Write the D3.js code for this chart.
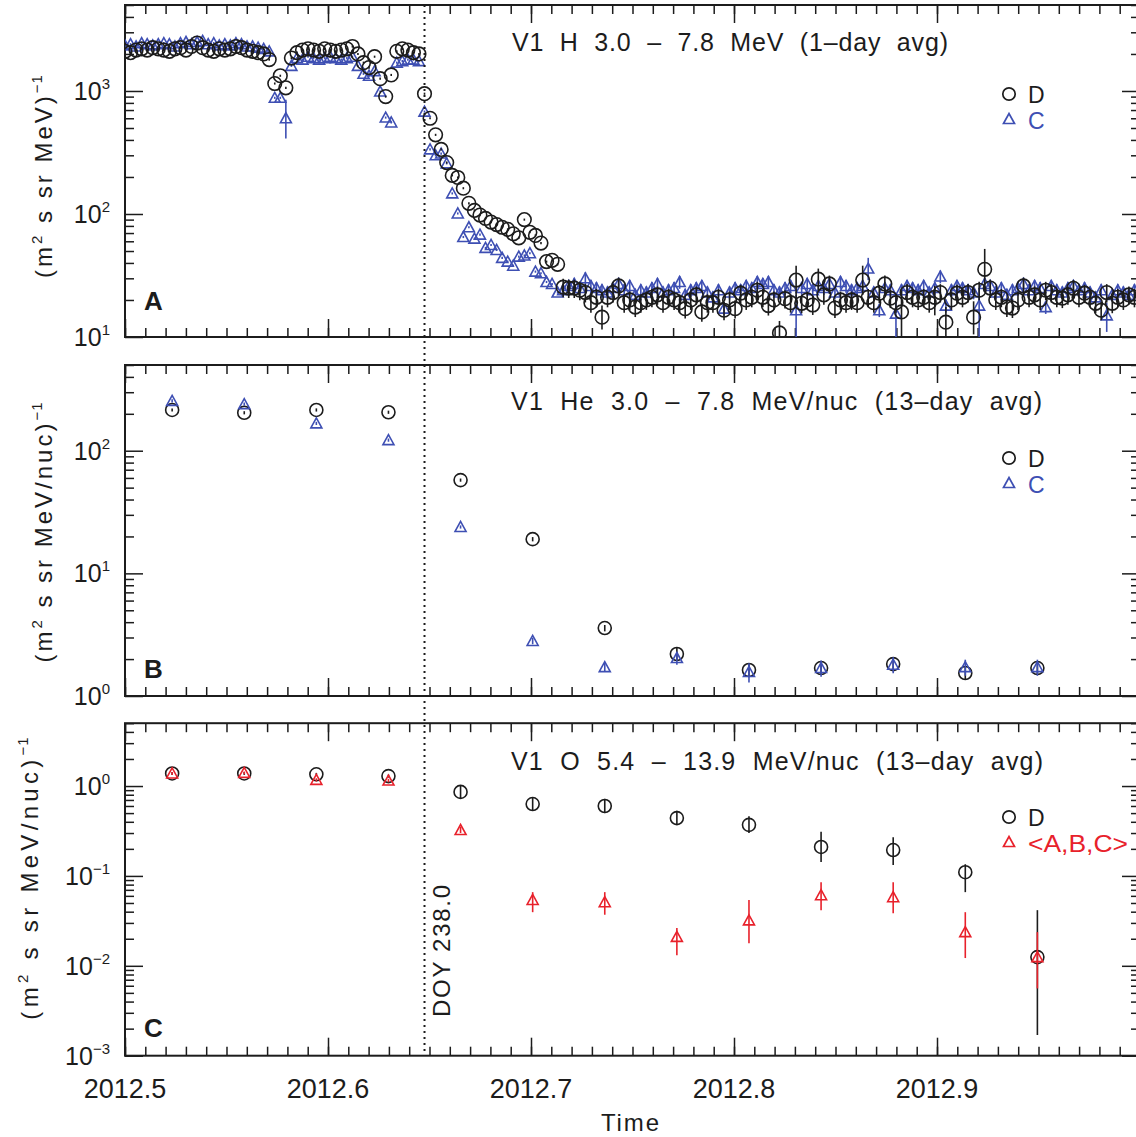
<!DOCTYPE html>
<html><head><meta charset="utf-8">
<script src="https://cdn.jsdelivr.net/npm/d3@7"></script>
<style>body{margin:0;background:#fff}svg{display:block}</style>
</head><body>
<svg id="chart" width="1136" height="1137"></svg>
<script>
// ================= DATA =================
// Panel A: V1 H 3.0-7.8 MeV, 1-day averages, consecutive days starting at DOY 184 (2012)
const hStartDoy = 184;
const hD = [
 2100,2050,2150,2200,2150,2250,2200,2150,2100,2200,2250,2150,2300,2450,2250,2150,2100,2200,2150,2200,2300,2250,2150,2100,2050,2000,1800,
 1150,1330,1060,1850,
 2050,2150,2200,2150,2100,2200,2150,2100,2150,2200,2300,
 2000,1700,1550,1900,1260,900,1350,
 2100,2200,2150,2050,2000,
 950,600,440,335,262,206,198,162,122,107,98,92,86,82,78,75,69,64,90,71,67,58,41,42,39,25.4,
 25,25,24,23,19,21,14.5,21,23,26,
 19,20,17.5,19,20,21,22,19,21,20,
 19,17,20,22,16,19,19,21,16.5,20,
 17,22.7,20,21,24,21,18,20,10.8,20.5,
 19,29,18.8,20,18.2,29.5,22,27,17.2,20,
 19,20,19,29,21,19,22.7,27,20.7,19,
 16,23,21,20,21,19,21,23,13.2,20,
 22.7,21,23,14.5,24,35.5,25,20,21,17.5,
 17.2,20,26,21,22,20,24,23,21,20.7,
 22,24.9,21,22.7,21,18.8,16.5,23,18.8,21,
 20,22,21
];
const hC = [
 2350,2400,2300,2450,2400,2350,2400,2450,2400,2300,2450,2500,2400,2500,2550,2400,2450,2350,2400,2350,2450,2400,2300,2300,2250,2200,2100,
 880,880,600,1600,
 1850,1800,1900,1850,1800,1850,1900,1850,1800,1850,1900,
 1600,1380,1330,1450,990,608,555,
 1700,1750,1800,1800,1750,
 680,335,300,310,258,147,101,65,78,63,68,53,56,51,44,41,38,45,46,48,34,33,28,27,23,24,
 26,27,25,30,26,25,24,23,25,27,
 24,26,22,24,23,25,27,23,24,25,
 28,22,24,25,26,23,21,24,17,23,
 25,24,26,25,28,27,28,24,23,25,
 26,16.5,25,27,24,26,25,27,23,28,
 26,24,25,26,36,23,16.5,25,24,15.5,
 24,26,25,24,26,23,25,31,18,24,
 26,25,24,23,18,27,26,23,25,22,
 24,25,27,24,26,25,17.5,26,24,23,
 25,26,24,25,23,21,24,15,22,24,
 23,22,24
];
// relative errors (fraction) before / after the quiet-tail start, plus individual long bars [dayIndex, low, high]
const hTailStartIndex = 79;
const hErrEarly = 0.02;
const hErrTailD = 0.17;
const hErrTailC = 0.12;
const hDErrBars = [[86,11.5,18],[118,8,13.5],[121,19,38],[125,24,36],[133,22,38],[140,9,24],[146,15,26],[148,9,17.5],[153,10.5,19.5],[155,24,52]];
const hCErrBars = [[29,410,850],[121,9,22],[134,29,44],[139,9,21],[154,9,25],[177,11,19]];

// Panels B and C: 13-day averages, bin centres (DOY 2012)
const binDoy = [192.5,205.5,218.5,231.5,244.5,257.5,270.5,283.5,296.5,309.5,322.5,335.5,348.5];
const heD    = [215,204,215,206,57.6,19,3.58,2.2,1.63,1.69,1.82,1.54,1.69];
const heDErr = [0.03,0.03,0.03,0.03,0.03,0.04,0.06,0.12,0.12,0.12,0.12,0.12,0.12];
const heC    = [255,240,167,122,23.9,2.81,1.72,2.04,1.57,1.69,1.8,1.72,1.72];
const heCErr = [0.03,0.03,0.03,0.03,0.03,0.06,0.08,0.12,0.18,0.15,0.15,0.15,0.15];

const oD   = [1.38,1.38,1.35,1.29,0.86,0.63,0.60,0.44,0.37,0.21,0.194,0.11,0.0125];
const oDLo = [1.33,1.33,1.30,1.24,0.72,0.53,0.50,0.37,0.30,0.143,0.132,0.066,0.0017];
const oDHi = [1.43,1.43,1.40,1.34,1.02,0.75,0.72,0.53,0.46,0.31,0.27,0.135,0.0416];
const oA   = [1.38,1.40,1.17,1.15,0.324,0.054,0.051,0.021,0.032,0.061,0.058,0.0237,0.0125];
const oALo = [1.33,1.35,1.12,1.10,0.30,0.0395,0.037,0.0131,0.0178,0.0416,0.0385,0.0122,0.0056];
const oAHi = [1.43,1.45,1.22,1.20,0.35,0.066,0.066,0.0263,0.054,0.085,0.085,0.0395,0.0237];

const eventDoy = 238.0;
const xMajorTicks = [2012.5,2012.6,2012.7,2012.8,2012.9,2013.0];
const xTickLabels = ["2012.5","2012.6","2012.7","2012.8","2012.9",""];
const titles = ["V1  H  3.0  –  7.8  MeV  (1–day  avg)",
                "V1  He  3.0  –  7.8  MeV/nuc  (13–day  avg)",
                "V1  O  5.4  –  13.9  MeV/nuc  (13–day  avg)"];
const panelLetters = ["A","B","C"];
const legendNames = [["D","C"],["D","C"],["D","<A,B,C>"]];

// ================= LAYOUT / STYLE =================
const BLK="#1c1c1c", BLUE="#3e4fb3", RED="#e8212b";
const X0=125, X1=1140;
const panels=[
  {top:5,   bottom:337,    dom:[10,5000],  ylabelX:52, ylabelY:176, ylabelLS:3, unit:"MeV", titleX:[512,948], titleY:51,  letterY:310, legY:94},
  {top:365, bottom:696,    dom:[1,500],    ylabelX:52, ylabelY:532, ylabelLS:3, unit:"MeV/nuc", titleX:[511,1042], titleY:410, letterY:678, legY:458},
  {top:723.2, bottom:1055.7, dom:[0.001,5], ylabelX:38, ylabelY:878, ylabelLS:4.3, unit:"MeV/nuc", titleX:[511,1043], titleY:770, letterY:1037, legY:817}
];
const svg=d3.select("#chart");
const x=d3.scaleLinear().domain([2012.5,2013.0]).range([X0,X1]);
const doyToT=d=>2012+(d-1)/366;
const xMinor=d3.range(0,51).map(k=>+(2012.5+k*0.01).toFixed(3));
const TRI="M-5.5,4.5L0,-5.5L5.5,4.5Z";
const fontH="'Liberation Sans', Arial, Helvetica, sans-serif";

function logTicks([lo,hi]){
  const major=[],minor=[];
  for(let e=Math.floor(Math.log10(lo)); e<=Math.ceil(Math.log10(hi)); e++){
    const v=Math.pow(10,e);
    if(v>=lo*0.999&&v<=hi*1.001) major.push(v);
    for(let k=2;k<=9;k++){const m=k*v; if(m>lo*1.001&&m<hi*1.001) minor.push(m);}
  }
  return {major,minor};
}
function styleAxis(g){
  g.select(".domain").remove();
  g.selectAll(".tick line").attr("stroke",BLK).attr("stroke-width",1.5);
}

panels.forEach((p,pi)=>{
  const y=d3.scaleLog().domain(p.dom).range([p.bottom,p.top]);
  p.y=y;
  const g=svg.append("g");
  const clipId="clip"+pi;
  svg.append("defs").append("clipPath").attr("id",clipId).append("rect")
     .attr("x",X0).attr("y",p.top).attr("width",X1-X0).attr("height",p.bottom-p.top);

  [[d3.axisBottom,p.bottom],[d3.axisTop,p.top]].forEach(([ax,yy])=>{
    g.append("g").attr("transform",`translate(0,${yy})`)
      .call(ax(x).tickValues(xMinor).tickSize(-9).tickFormat("")).call(styleAxis);
    g.append("g").attr("transform",`translate(0,${yy})`)
      .call(ax(x).tickValues(xMajorTicks).tickSize(-18).tickFormat("")).call(styleAxis);
  });
  const lt=logTicks(p.dom);
  [[d3.axisLeft,X0],[d3.axisRight,X1]].forEach(([ax,xx])=>{
    g.append("g").attr("transform",`translate(${xx},0)`)
      .call(ax(y).tickValues(lt.minor).tickSize(-9).tickFormat("")).call(styleAxis);
    g.append("g").attr("transform",`translate(${xx},0)`)
      .call(ax(y).tickValues(lt.major).tickSize(-18).tickFormat("")).call(styleAxis);
  });
  lt.major.forEach(v=>{
    const e=Math.round(Math.log10(v));
    const t=g.append("text").attr("x",110).attr("y",y(v)+9).attr("text-anchor","end")
      .attr("font-family",fontH).attr("fill",BLK);
    t.append("tspan").attr("font-size",25).text("10");
    t.append("tspan").attr("font-size",15).attr("dy",-11).text(String(e).replace("-","−"));
  });
  g.append("rect").attr("x",X0).attr("y",p.top).attr("width",X1-X0).attr("height",p.bottom-p.top)
    .attr("fill","none").attr("stroke",BLK).attr("stroke-width",2);

  const yt=g.append("text").attr("transform",`translate(${p.ylabelX},${p.ylabelY}) rotate(-90)`)
    .attr("text-anchor","middle").attr("font-family",fontH).attr("font-size",24)
    .attr("letter-spacing",p.ylabelLS).attr("fill",BLK);
  yt.append("tspan").text("(m");
  yt.append("tspan").attr("font-size",15).attr("dy",-10).text("2");
  yt.append("tspan").attr("dy",10).text(" s sr "+p.unit+")");
  yt.append("tspan").attr("font-size",15).attr("dy",-10).attr("letter-spacing",1).text("−1");

  g.append("text").attr("x",p.titleX[0]).attr("y",p.titleY).attr("font-family",fontH)
    .attr("font-size",25).attr("fill",BLK).attr("textLength",p.titleX[1]-p.titleX[0])
    .attr("lengthAdjust","spacing").style("white-space","pre").text(titles[pi]);
  g.append("text").attr("x",144).attr("y",p.letterY).attr("font-family",fontH)
    .attr("font-size",26).attr("font-weight","bold").attr("fill",BLK).text(panelLetters[pi]);

  const col2 = pi===2?RED:BLUE;
  g.append("circle").attr("cx",1009).attr("cy",p.legY).attr("r",6.2)
    .attr("fill","none").attr("stroke",BLK).attr("stroke-width",1.7);
  g.append("text").attr("x",1028).attr("y",p.legY+9).attr("font-family",fontH).attr("font-size",23)
    .attr("fill",BLK).text(legendNames[pi][0]);
  g.append("path").attr("d",TRI).attr("transform",`translate(1009,${p.legY+25})`)
    .attr("fill","none").attr("stroke",col2).attr("stroke-width",1.7);
  const lt2=g.append("text").attr("x",1028).attr("y",p.legY+35).attr("font-family",fontH).attr("font-size",23)
    .attr("fill",col2).text(legendNames[pi][1]);
  if(pi===2) lt2.attr("textLength",100).attr("lengthAdjust","spacingAndGlyphs");

  p.plot=svg.append("g").attr("clip-path",`url(#${clipId})`);
});

function drawSeries(plot,y,pts,shape,color,r){
  const gg=plot.append("g");
  gg.selectAll("line").data(pts).join("line")
    .attr("x1",d=>x(d.t)).attr("x2",d=>x(d.t)).attr("y1",d=>y(d.lo)).attr("y2",d=>y(d.hi))
    .attr("stroke",color).attr("stroke-width",1.6);
  if(shape==="circle"){
    gg.selectAll("circle").data(pts).join("circle").attr("cx",d=>x(d.t)).attr("cy",d=>y(d.v)).attr("r",r||6.5)
      .attr("fill","none").attr("stroke",color).attr("stroke-width",1.6);
  } else {
    gg.selectAll("path").data(pts).join("path").attr("d",TRI)
      .attr("transform",d=>`translate(${x(d.t)},${y(d.v)})`)
      .attr("fill","none").attr("stroke",color).attr("stroke-width",1.6);
  }
}
function hPoints(vals,tailErr,bars){
  const m=new Map(bars.map(b=>[b[0],b]));
  return vals.map((v,i)=>{
    const e=i>=hTailStartIndex?tailErr:hErrEarly;
    const b=m.get(i);
    return {t:doyToT(hStartDoy+i),v,lo:b?b[1]:v*(1-e),hi:b?b[2]:v*(1+e)};
  });
}
drawSeries(panels[0].plot,panels[0].y,hPoints(hC,hErrTailC,hCErrBars),"tri",BLUE);
drawSeries(panels[0].plot,panels[0].y,hPoints(hD,hErrTailD,hDErrBars),"circle",BLK,6.8);
drawSeries(panels[1].plot,panels[1].y,heD.map((v,i)=>({t:doyToT(binDoy[i]),v,lo:v*(1-heDErr[i]),hi:v*(1+heDErr[i])})),"circle",BLK);
drawSeries(panels[1].plot,panels[1].y,heC.map((v,i)=>({t:doyToT(binDoy[i]),v,lo:v*(1-heCErr[i]),hi:v*(1+heCErr[i])})),"tri",BLUE);
drawSeries(panels[2].plot,panels[2].y,oD.map((v,i)=>({t:doyToT(binDoy[i]),v,lo:oDLo[i],hi:oDHi[i]})),"circle",BLK);
drawSeries(panels[2].plot,panels[2].y,oA.map((v,i)=>({t:doyToT(binDoy[i]),v,lo:oALo[i],hi:oAHi[i]})),"tri",RED);

const xe=x(doyToT(eventDoy));
svg.append("line").attr("x1",xe).attr("x2",xe).attr("y1",panels[0].top).attr("y2",panels[2].bottom)
  .attr("stroke",BLK).attr("stroke-width",2).attr("stroke-dasharray","2,4");
svg.append("text").attr("transform",`translate(${xe+25},1017) rotate(-90)`)
  .attr("font-family",fontH).attr("font-size",24).attr("fill",BLK)
  .attr("textLength",132).attr("lengthAdjust","spacing").text("DOY 238.0");

svg.append("g").selectAll("text").data(xMajorTicks).join("text")
  .attr("x",d=>x(d)).attr("y",1098).attr("text-anchor","middle")
  .attr("font-family",fontH).attr("font-size",27).attr("fill",BLK)
  .text((d,i)=>xTickLabels[i]);
svg.append("text").attr("x",630).attr("y",1131).attr("text-anchor","middle")
  .attr("font-family",fontH).attr("font-size",24).attr("fill",BLK)
  .attr("textLength",58).attr("lengthAdjust","spacing").text("Time");
</script>
</body></html>
